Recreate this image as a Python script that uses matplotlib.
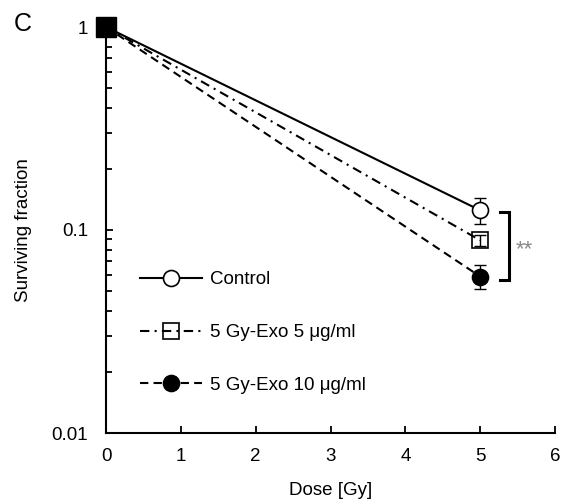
import matplotlib
matplotlib.use("Agg")
import matplotlib.pyplot as plt
from matplotlib.ticker import FixedLocator, FixedFormatter, LogLocator, NullFormatter

plt.rcParams['font.family'] = ['Liberation Sans', 'DejaVu Sans']

# ---- data ----
dose = [0, 5]
control = [1.0, 0.125]
control_err = [0.0, 0.018]
exo5 = [1.0, 0.089]
exo5_err = [0.0, 0.006]
exo10 = [1.0, 0.059]
exo10_err = [0.0, 0.008]
labels = ["Control", "5 Gy-Exo 5 \u03bcg/ml", "5 Gy-Exo 10 \u03bcg/ml"]
xticks = [0, 1, 2, 3, 4, 5, 6]
yticks = [0.01, 0.1, 1]
ytick_labels = ["0.01", "0.1", "1"]

fig = plt.figure(figsize=(5.63, 5.01), dpi=100)
ax = fig.add_axes([106/563, 1 - 433/501, 449/563, 406/501])

ms = 11.5
lw = 1.5
styles = [
    dict(ls='-', marker='o', mfc='white'),
    dict(ls=(0, (4.5, 2.5, 1, 2.5)), marker='s', mfc='none'),
    dict(ls=(0, (4, 2.5)), marker='o', mfc='black'),
]
series = [(control, control_err), (exo5, exo5_err), (exo10, exo10_err)]

handles = []
for (vals, err), st, lab in zip(series, styles, labels):
    ax.errorbar(dose, vals, yerr=err, fmt='none', ecolor='black', elinewidth=1.0,
                capsize=4, capthick=1.0, zorder=2)
    h, = ax.plot(dose, vals, color='black', lw=lw, markevery=[1], ms=ms, mew=1.2,
                 mec='black', label=lab, zorder=3, **st)
    handles.append(h)

# common starting point
ax.plot([dose[0]], [control[0]], marker='s', ms=14, color='black', ls='none',
        clip_on=False, zorder=5)

ax.set_yscale('log')
ax.set_xlim(0, 6)
ax.set_ylim(0.01, 1)
ax.xaxis.set_major_locator(FixedLocator(xticks))
ax.yaxis.set_major_locator(FixedLocator(yticks))
ax.yaxis.set_major_formatter(FixedFormatter(ytick_labels))
ax.yaxis.set_minor_locator(LogLocator(base=10, subs=range(2, 10)))
ax.yaxis.set_minor_formatter(NullFormatter())

for s in ['top', 'right']:
    ax.spines[s].set_visible(False)
for s in ['left', 'bottom']:
    ax.spines[s].set_linewidth(1.5)

ax.tick_params(axis='both', which='both', direction='in', labelsize=13.5, width=1.3)
ax.tick_params(axis='x', which='major', length=5, pad=11)
ax.tick_params(axis='y', which='major', length=5, pad=13)
ax.tick_params(axis='y', which='minor', length=4)

ax.set_xlabel("Dose [Gy]", fontsize=13.5, labelpad=12)
ax.set_ylabel("Surviving fraction", fontsize=13.5, labelpad=14)

# significance bracket
ax.plot([5.27, 5.39, 5.39, 5.27], [0.1227, 0.1227, 0.0567, 0.0567], color='black',
        lw=2.2, clip_on=False, solid_joinstyle='miter')
ax.text(5.47, 0.0797, "**", color='#888888', fontsize=16, va='center', ha='left')

leg = ax.legend(handles=handles, loc='center left', bbox_to_anchor=(0.076, 0.2475),
                frameon=False, fontsize=13.5, handlelength=3.3, handletextpad=0.45,
                labelspacing=1.9, borderpad=0, borderaxespad=0)

fig.text(23/563, 1 - 24/501, "C", fontsize=18, ha='center', va='center')

fig.savefig("out.png", dpi=100)
